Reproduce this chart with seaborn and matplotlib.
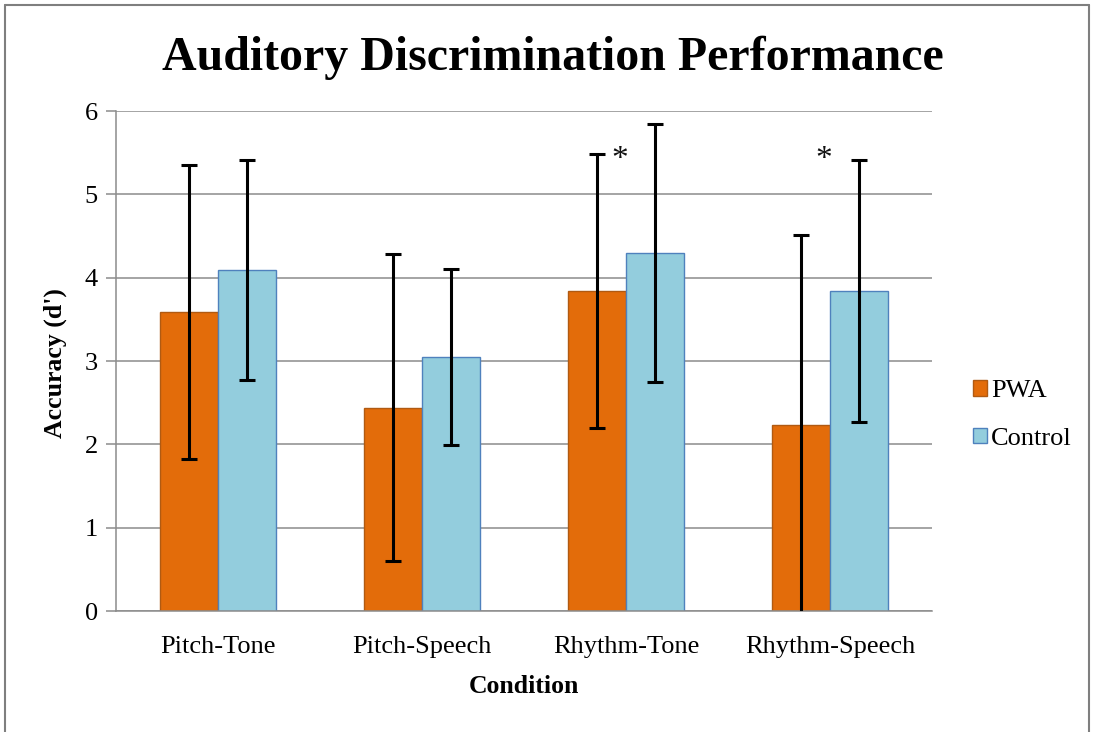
import matplotlib
matplotlib.use("Agg")
import matplotlib.pyplot as plt
import seaborn as sns
import pandas as pd
import numpy as np
from matplotlib.lines import Line2D
from matplotlib.patches import Patch

conditions = ["Pitch-Tone", "Pitch-Speech", "Rhythm-Tone", "Rhythm-Speech"]
groups = ["PWA", "Control"]
pwa_mean = [3.59, 2.44, 3.84, 2.23]
control_mean = [4.09, 3.05, 4.30, 3.84]
pwa_err = [1.76, 1.84, 1.645, 2.28]
control_err = [1.32, 1.06, 1.55, 1.57]
significant = [False, False, True, True]

df = pd.DataFrame({
    "Condition": conditions * 2,
    "Group": ["PWA"] * 4 + ["Control"] * 4,
    "Accuracy": pwa_mean + control_mean,
    "Err": pwa_err + control_err,
})

sns.set_theme(style="white")
plt.rcParams["font.family"] = ["Liberation Serif", "DejaVu Serif"]
plt.rcParams["text.color"] = "black"
plt.rcParams["axes.labelcolor"] = "black"
plt.rcParams["xtick.color"] = "black"
plt.rcParams["ytick.color"] = "black"

fig = plt.figure(figsize=(10.94, 7.32), dpi=100)
ax = fig.add_axes([116/1094, 1-611/732, (932-116)/1094, (611-111)/732])

colors = {"PWA": "#E36C0A", "Control": "#93CDDD"}
edges = {"PWA": "#B05A12", "Control": "#4F81BD"}

sns.barplot(data=df, x="Condition", y="Accuracy", hue="Group", order=conditions,
            hue_order=groups, palette=colors, width=0.57, ax=ax, legend=False,
            linewidth=1.0, saturation=1)

for container, g in zip(ax.containers, groups):
    sub = df[df.Group == g].set_index("Condition").loc[conditions]
    xs, hs = [], []
    for bar in container:
        bar.set_edgecolor(edges[g])
        xs.append(bar.get_x() + bar.get_width() / 2)
        hs.append(bar.get_height())
    ax.errorbar(xs, hs, yerr=sub["Err"].values, fmt="none", ecolor="black",
                elinewidth=2.2, capsize=6, capthick=2.2, zorder=5)

for i, s in enumerate(significant):
    if s:
        ax.text(i - 0.03, 5.42, "*", ha="center", va="center", fontsize=24,
                color="#111111")

ax.set_ylim(0, 6)
ax.set_xlim(-0.5, 3.5)
ax.set_yticks(range(0, 7))
ax.yaxis.grid(True, color="#8c8c8c", linewidth=1.1)
ax.set_axisbelow(True)
for side in ["top", "right"]:
    ax.spines[side].set_visible(False)
ax.spines["left"].set_color("#8c8c8c")
ax.spines["bottom"].set_color("#8c8c8c")
ax.spines["left"].set_linewidth(1.1)
ax.spines["bottom"].set_linewidth(1.1)
ax.tick_params(axis="y", left=True, length=7, width=1.1, color="#8c8c8c",
               labelsize=19, pad=6, labelcolor="black")
ax.tick_params(axis="x", bottom=False, labelsize=19, pad=12, labelcolor="black")
ax.set_xlabel("Condition", fontsize=18.5, fontweight="bold", labelpad=12)
ax.set_ylabel("Accuracy (d')", fontsize=18.5, fontweight="bold")
ax.yaxis.set_label_coords(-0.060, 0.496)

fig.suptitle("Auditory Discrimination Performance", x=0.505, y=1-58/732,
             va="center", fontsize=34.5, fontweight="bold", color="black")

handles = [Patch(facecolor=colors[g], edgecolor=edges[g], label=g) for g in groups]
fig.legend(handles=handles, loc="center left", bbox_to_anchor=(949/1094, 1-415/732),
           frameon=False, fontsize=19, handlelength=0.55, handleheight=0.55,
           handletextpad=0.15, labelspacing=0.95)

for xs_, ys_ in [([5/1094, 5/1094], [0, 1-5/732]),
                 ([5/1094, 1089/1094], [1-5/732, 1-5/732]),
                 ([1089/1094, 1089/1094], [0, 1-5/732])]:
    fig.add_artist(Line2D(xs_, ys_, color="#7f7f7f", linewidth=1.5))

fig.savefig("out.png", dpi=100)
